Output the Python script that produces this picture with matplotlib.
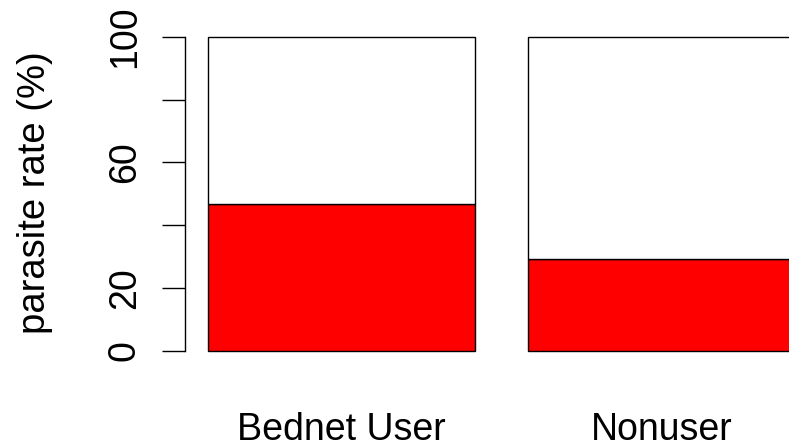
import numpy as np
import matplotlib
matplotlib.use('Agg')
import matplotlib.pyplot as plt

# parasite rate by bednet use (R style stacked barplot, red = infected)
groups = ['Bednet User', 'Nonuser']
rate = [46.6, 29.1]
total = [100, 100]
yticks = [0, 20, 40, 60, 80, 100]
ylabels = ['0', '20', '', '60', '', '100']

plt.rcParams['font.family'] = ['Liberation Sans', 'DejaVu Sans']
fs = 27

W, H = 789, 445
fig = plt.figure(figsize=(W/100, H/100), dpi=100)
ax = fig.add_axes([0, 94.5/H, 1, 313.7/H])

# bars in R coordinates: width 1, space 0.2
x = 0.2 + 1.2*np.arange(len(groups)) + 0.5
rest = np.array(total) - np.array(rate)
ax.bar(x, rate, width=1, color='#ff0000', edgecolor='black', linewidth=1.0, clip_on=False)
ax.bar(x, rest, width=1, bottom=rate, color='white', edgecolor='black', linewidth=1.0, clip_on=False)

ax.set_xlim(-155/266.7, (W-155)/266.7)
ax.set_ylim(0, 100)

for s in ['top', 'right', 'bottom']:
    ax.spines[s].set_visible(False)
ax.spines['left'].set_position(('data', (185-155)/266.7))
ax.spines['left'].set_bounds(0, 100)
ax.spines['left'].set_linewidth(1.0)

ax.set_yticks(yticks)
ax.set_yticklabels(ylabels, rotation=90, va='center', fontsize=fs)
ax.tick_params(axis='y', length=16.5, width=1.0, pad=14)

ax.set_xticks(x)
ax.set_xticklabels(groups, fontsize=fs)
ax.tick_params(axis='x', length=0, pad=44)

fig.text(35/W, 0.5 + (445/2 - 193)/H, 'parasite rate (%)', rotation=90,
         ha='center', va='center', fontsize=fs + 0.5)

fig.savefig('out.png', dpi=100)
